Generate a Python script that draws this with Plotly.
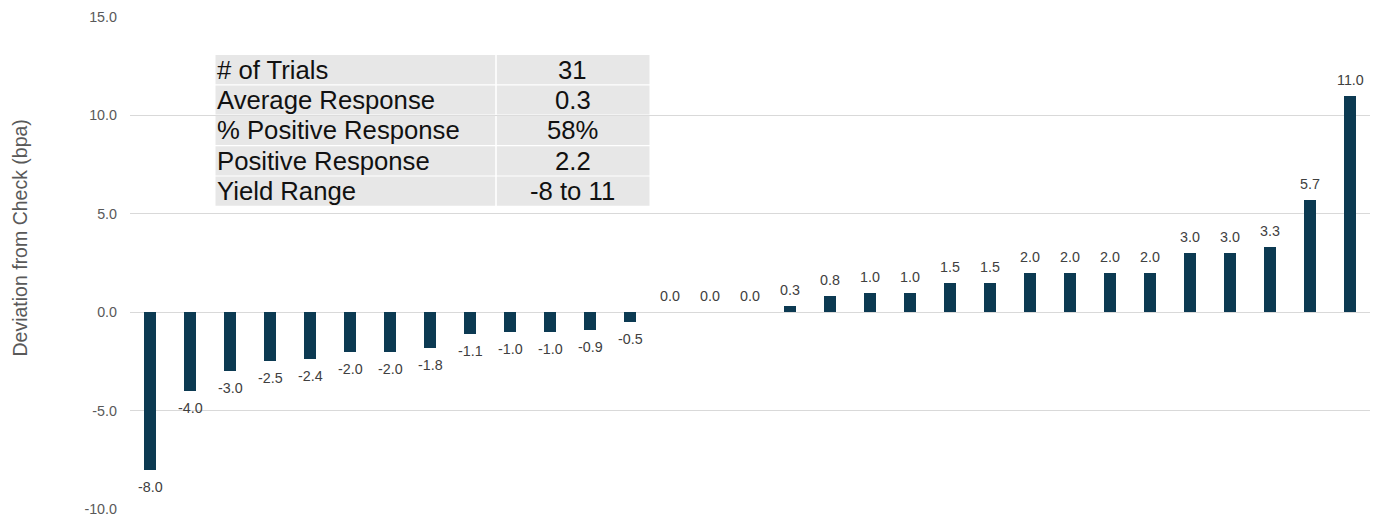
import plotly.graph_objects as go

values = [-8.0, -4.0, -3.0, -2.5, -2.4, -2.0, -2.0, -1.8, -1.1, -1.0, -1.0, -0.9, -0.5,
          0.0, 0.0, 0.0, 0.3, 0.8, 1.0, 1.0, 1.5, 1.5, 2.0, 2.0, 2.0, 2.0, 3.0, 3.0, 3.3, 5.7, 11.0]
categories = list(range(1, len(values) + 1))
tick_vals = [-10, -5, 0, 5, 10, 15]
tick_text = ["-10.0", "-5.0", "0.0", "5.0", "10.0", "15.0"]
table_labels = ["# of Trials", "Average Response", "% Positive Response", "Positive Response", "Yield Range"]
table_values = ["31", "0.3", "58%", "2.2", "-8 to 11"]

FONT = "Liberation Sans, Arial, sans-serif"
BAR = "#0c3a52"
GRAY = "#595959"
LABEL = "#404040"
CELL = "#e7e7e7"

# page body has an 8px margin; work in screen pixels and shift
OFF = 8
W, H = 1380 - OFF, 518 - OFF
plot_l, plot_r, plot_t, plot_b = 130, 1370, 17, 509   # screen pixels
pw, ph = plot_r - plot_l, plot_b - plot_t


def px_x(x):
    return (x - plot_l) / pw


def px_y(y):
    return 1 - (y - plot_t) / ph


fig = go.Figure()
fig.add_trace(go.Bar(
    x=categories, y=values, marker=dict(color=BAR, line=dict(width=0)),
    width=0.32, showlegend=False, hoverinfo="x+y",
))

# data labels
for c, v in zip(categories, values):
    pos = v >= 0
    fig.add_annotation(x=c, y=v, xref="x", yref="y", text=f"{v:.1f}", showarrow=False,
                       xanchor="center", yanchor="bottom" if pos else "top",
                       yshift=6 if pos else -7,
                       font=dict(family=FONT, size=14.3, color=LABEL))

# stats table
tx0, tsplit, tx1 = 215.5, 496, 649.5
row_top, row_pitch, row_fill = 55, 30.4, 29.2
for i, (lab, val) in enumerate(zip(table_labels, table_values)):
    y0 = row_top + i * row_pitch
    y1 = y0 + row_fill
    fig.add_shape(type="rect", xref="paper", yref="paper",
                  x0=px_x(tx0), x1=px_x(tsplit - 0.8), y0=px_y(y1), y1=px_y(y0),
                  fillcolor=CELL, line=dict(width=0), layer="above")
    fig.add_shape(type="rect", xref="paper", yref="paper",
                  x0=px_x(tsplit + 0.8), x1=px_x(tx1), y0=px_y(y1), y1=px_y(y0),
                  fillcolor=CELL, line=dict(width=0), layer="above")
    yc = px_y((y0 + y1) / 2)
    fig.add_annotation(text=lab, xref="paper", yref="paper", x=px_x(tx0 + 0.5), y=yc,
                       xanchor="left", yanchor="middle", showarrow=False, borderpad=0,
                       font=dict(family=FONT, size=25.7, color="#111111"))
    fig.add_annotation(text=val, xref="paper", yref="paper", x=px_x((tsplit + tx1) / 2), y=yc,
                       xanchor="center", yanchor="middle", showarrow=False, borderpad=0,
                       font=dict(family=FONT, size=25.7, color="#111111"))

fig.add_annotation(text="Deviation from Check (bpa)", xref="paper", yref="paper",
                   x=px_x(19.5), y=px_y(238), xanchor="center", yanchor="middle",
                   textangle=-90, showarrow=False,
                   font=dict(family=FONT, size=19.5, color=GRAY))

fig.update_layout(
    width=W, height=H, paper_bgcolor="white", plot_bgcolor="white",
    margin=dict(l=plot_l - OFF, r=1380 - plot_r, t=plot_t - OFF, b=518 - plot_b,
                autoexpand=False),
    font=dict(family=FONT),
    bargap=0,
    xaxis=dict(range=[0.5, len(values) + 0.5], showticklabels=False, showgrid=False,
               zeroline=False, showline=False, fixedrange=True, automargin=False),
    yaxis=dict(range=[-10, 15], tickvals=tick_vals, ticktext=tick_text,
               showgrid=True, gridcolor="#d9d9d9", gridwidth=1,
               zeroline=True, zerolinecolor="#d9d9d9", zerolinewidth=1,
               tickfont=dict(family=FONT, size=14.3, color=GRAY),
               ticklabelstandoff=12, showline=False, automargin=False),
)

fig.write_html("out.html")
